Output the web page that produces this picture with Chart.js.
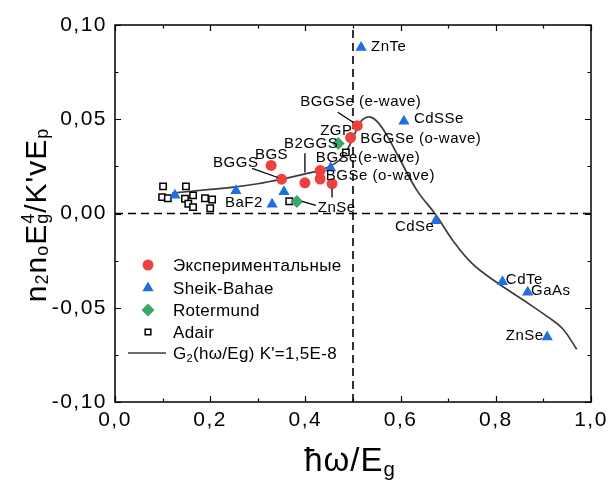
<!DOCTYPE html>
<html>
<head>
<meta charset="utf-8">
<script src="https://cdn.jsdelivr.net/npm/chart.js@4.4.1/dist/chart.umd.min.js"></script>
<style>
  html, body { margin: 0; padding: 0; background: #fff; }
</style>
</head>
<body>
<canvas id="chart" width="608" height="481"></canvas>
<script>
const FONT = '"Liberation Sans", Arial, sans-serif';

// Экспериментальные (own measurements)
const expX = [0.328, 0.350, 0.399, 0.431, 0.431, 0.456, 0.495, 0.509];
const expY = [0.0255, 0.0182, 0.0163, 0.0228, 0.0183, 0.0158, 0.0403, 0.0466];

// Sheik-Bahae
const sbX = [0.126, 0.254, 0.355, 0.330, 0.453, 0.517, 0.607, 0.674, 0.814, 0.867, 0.908];
const sbY = [0.0097, 0.0121, 0.0115, 0.0049, 0.0242, 0.0880, 0.0490, -0.0038, -0.0362, -0.0418, -0.0655];

// Rotermund
const rotX = [0.469, 0.382];
const rotY = [0.0371, 0.0064];

// Adair
const adX = [0.101, 0.149, 0.099, 0.111, 0.147, 0.164, 0.154, 0.164, 0.189, 0.204, 0.200, 0.366, 0.485];
const adY = [0.0144, 0.0144, 0.0087, 0.0081, 0.0078, 0.0096, 0.0052, 0.0034, 0.0081, 0.0074, 0.0028, 0.0065, 0.0324];

// G2(hw/Eg) model curve, K'=1,5E-8
const g2X = [0.12, 0.20, 0.25, 0.30, 0.35, 0.40, 0.43, 0.46, 0.48, 0.50, 0.51, 0.52, 0.535, 0.55, 0.57, 0.60, 0.635, 0.675, 0.71, 0.75, 0.80, 0.86, 0.91, 0.94, 0.97];
const g2Y = [0.0108, 0.0128, 0.0140, 0.0158, 0.0182, 0.0210, 0.0229, 0.0262, 0.0305, 0.0400, 0.0460, 0.0498, 0.0513, 0.0490, 0.0420, 0.0280, 0.0120, -0.0010, -0.0144, -0.0265, -0.0362, -0.0463, -0.0550, -0.0610, -0.0720];

// reference lines: hw/Eg = 0,5 and zero level
const halfX = [0.5, 0.5];
const halfY = [-0.1, 0.1];
const zeroX = [0, 1];
const zeroY = [0, 0];

// point labels (left edge, vertical middle) in data units
const labelText = ['ZnTe', 'CdSSe', 'BGGSe (e-wave)', 'ZGP', 'BGGSe (o-wave)', 'B2GGS', 'BGS', 'BGGS',
  'BGSe(e-wave)', 'BGSe (o-wave)', 'BaF2', 'ZnSe', 'CdSe', 'CdTe', 'GaAs', 'ZnSe'];
const labelX = [0.538, 0.628, 0.389, 0.431, 0.515, 0.355, 0.294, 0.206, 0.422, 0.443, 0.231, 0.426, 0.588, 0.821, 0.874, 0.821];
const labelY = [0.0883, 0.0500, 0.0590, 0.0441, 0.0394, 0.0367, 0.0309, 0.0266, 0.0293, 0.0202, 0.0059, 0.0032, -0.0069, -0.0351, -0.0410, -0.0649];

// leader lines from labels to points: x1, y1, x2, y2
const leaders = [
  [0.468, 0.0537, 0.500, 0.0484],
  [0.288, 0.0239, 0.342, 0.0191],
  [0.399, 0.0319, 0.399, 0.0218],
  [0.456, 0.0133, 0.456, 0.0085],
  [0.393, 0.0064, 0.422, 0.0043]
];

const pts = (xs, ys) => xs.map((x, i) => ({ x, y: ys[i] }));

function fmt(v, digits) {
  if (Math.abs(v) < 1e-9) v = 0;
  return v.toFixed(digits).replace('.', ',');
}
function isMultiple(v, step) {
  return Math.abs(Math.round(v / step) * step - v) < 1e-9;
}

// text with sub/superscripts; parts: {t, s (scale), dy (em), keep (no advance)}
function richWidth(ctx, parts, size) {
  let w = 0, pend = 0;
  parts.forEach(p => {
    ctx.font = (size * (p.s || 1)) + 'px ' + FONT;
    const pw = ctx.measureText(p.t).width;
    if (p.keep) { pend = pw; return; }
    w += Math.max(pw, pend); pend = 0;
  });
  return w;
}
function drawRich(ctx, parts, size, cx, baseY) {
  let x = cx - richWidth(ctx, parts, size) / 2, pend = 0;
  parts.forEach(p => {
    ctx.font = (size * (p.s || 1)) + 'px ' + FONT;
    const pw = ctx.measureText(p.t).width;
    ctx.fillText(p.t, x, baseY + (p.dy || 0) * size);
    if (p.keep) { pend = pw; return; }
    x += Math.max(pw, pend); pend = 0;
  });
}

const yTitle = [
  { t: 'n' }, { t: '2', s: 0.6, dy: 0.07 }, { t: 'n' }, { t: 'o', s: 0.6, dy: 0.07 }, { t: 'E' },
  { t: 'g', s: 0.6, dy: 0.07, keep: true }, { t: '4', s: 0.6, dy: -0.4 }, { t: "/K'vE" }, { t: 'p', s: 0.6, dy: 0.07 }
];
const xTitle = [{ t: 'ħω/E' }, { t: 'g', s: 0.62, dy: 0.15 }];

const chrome = {
  id: 'chrome',
  beforeDraw(chart) {
    chart.ctx.letterSpacing = '1.5px';
  },
  beforeDatasetsDraw(chart) {
    chart.ctx.letterSpacing = '0px';
  },
  afterDatasetsDraw(chart) {
    const { ctx, chartArea: a, scales: { x, y } } = chart;
    ctx.save();
    ctx.strokeStyle = '#000';
    ctx.lineWidth = 1.5;
    ctx.strokeRect(a.left, a.top, a.right - a.left, a.bottom - a.top);

    // inward ticks on all four sides
    ctx.lineWidth = 1.2;
    ctx.beginPath();
    x.ticks.forEach(t => {
      const px = Math.round(x.getPixelForValue(t.value)) + 0.5;
      const len = isMultiple(t.value, 0.2) ? 6 : 3.5;
      ctx.moveTo(px, a.bottom); ctx.lineTo(px, a.bottom - len);
      ctx.moveTo(px, a.top); ctx.lineTo(px, a.top + len);
    });
    y.ticks.forEach(t => {
      const py = Math.round(y.getPixelForValue(t.value)) + 0.5;
      const len = isMultiple(t.value, 0.05) ? 6 : 3.5;
      ctx.moveTo(a.left, py); ctx.lineTo(a.left + len, py);
      ctx.moveTo(a.right, py); ctx.lineTo(a.right - len, py);
    });
    ctx.stroke();

    // leader lines
    ctx.lineWidth = 1.3;
    ctx.strokeStyle = '#000';
    ctx.beginPath();
    leaders.forEach(([x1, y1, x2, y2]) => {
      ctx.moveTo(x.getPixelForValue(x1), y.getPixelForValue(y1));
      ctx.lineTo(x.getPixelForValue(x2), y.getPixelForValue(y2));
    });
    ctx.stroke();

    // point labels
    ctx.fillStyle = '#000';
    ctx.font = '15px ' + FONT;
    ctx.letterSpacing = '0.5px';
    ctx.textAlign = 'left';
    ctx.textBaseline = 'middle';
    labelText.forEach((txt, i) => {
      ctx.fillText(txt, x.getPixelForValue(labelX[i]), y.getPixelForValue(labelY[i]));
    });
    ctx.restore();
  },
  afterDraw(chart) {
    const ctx = chart.ctx;
    ctx.save();
    ctx.letterSpacing = '1px';
    ctx.fillStyle = '#000';
    ctx.textAlign = 'left';
    ctx.textBaseline = 'alphabetic';

    // axis titles
    drawRich(ctx, xTitle, 33, 350, 471);
    ctx.save();
    ctx.translate(46, 215);
    ctx.rotate(-Math.PI / 2);
    drawRich(ctx, yTitle, 30, 0, 0);
    ctx.restore();

    // legend inside the plot
    ctx.letterSpacing = '0.3px';
    const rows = [265, 288, 310, 332, 353];
    chart.data.datasets.slice(0, 5).forEach((ds, i) => {
      const yy = rows[i];
      if (ds.pointRadius > 0) {
        ctx.fillStyle = ds.backgroundColor;
        ctx.strokeStyle = ds.borderColor;
        ctx.lineWidth = ds.borderWidth || 0;
        Chart.helpers.drawPoint(ctx, {
          pointStyle: ds.pointStyle, rotation: 0,
          radius: ds.pointStyle === 'rect' ? 4 : ds.pointRadius, borderWidth: ds.borderWidth || 0
        }, 148, yy);
      } else {
        ctx.strokeStyle = ds.borderColor;
        ctx.lineWidth = ds.borderWidth;
        ctx.beginPath(); ctx.moveTo(128, yy); ctx.lineTo(166, yy); ctx.stroke();
      }
      ctx.fillStyle = '#000';
      if (ds.label.startsWith('G2')) {
        ctx.textBaseline = 'alphabetic';
        let xx = 173;
        ctx.font = '17px ' + FONT;
        ctx.fillText('G', xx, yy + 6); xx += ctx.measureText('G').width;
        ctx.font = '11px ' + FONT;
        ctx.fillText('2', xx, yy + 9); xx += ctx.measureText('2').width;
        ctx.font = '17px ' + FONT;
        ctx.fillText("(hω/Eg) K'=1,5E-8", xx, yy + 6);
      } else {
        ctx.textBaseline = 'middle';
        ctx.font = '17px ' + FONT;
        ctx.fillText(ds.label, 173, yy + 1);
      }
    });
    ctx.restore();
  }
};

new Chart(document.getElementById('chart'), {
  type: 'scatter',
  data: {
    datasets: [
      { label: 'Экспериментальные', data: pts(expX, expY), pointStyle: 'circle', pointRadius: 5.5,
        backgroundColor: '#ef4040', borderColor: '#ef4040', borderWidth: 0, order: 1 },
      { label: 'Sheik-Bahae', data: pts(sbX, sbY), pointStyle: 'triangle', pointRadius: 6.5,
        backgroundColor: '#1f6fe0', borderColor: '#1f6fe0', borderWidth: 0, order: 1 },
      { label: 'Rotermund', data: pts(rotX, rotY), pointStyle: 'rectRot', pointRadius: 6.5,
        backgroundColor: '#3aa86a', borderColor: '#3aa86a', borderWidth: 0, order: 1 },
      { label: 'Adair', data: pts(adX, adY), pointStyle: 'rect', pointRadius: 4.5,
        backgroundColor: '#fff', borderColor: '#000', borderWidth: 1.5, order: 2 },
      { label: "G2(hω/Eg) K'=1,5E-8", data: pts(g2X, g2Y), showLine: true, pointRadius: 0,
        borderColor: '#3c3c3c', borderWidth: 1.7, tension: 0.4, order: 5 },
      { label: 'half', data: pts(halfX, halfY), showLine: true, pointRadius: 0,
        borderColor: '#000', borderWidth: 1.6, borderDash: [8, 5], order: 10 },
      { label: 'zero', data: pts(zeroX, zeroY), showLine: true, pointRadius: 0,
        borderColor: '#000', borderWidth: 1.6, borderDash: [8, 5], order: 10 }
    ]
  },
  options: {
    responsive: false,
    animation: false,
    layout: { padding: { top: 25, right: 17, left: 0, bottom: 0 } },
    plugins: { legend: { display: false }, tooltip: { enabled: false } },
    scales: {
      x: {
        min: 0, max: 1,
        grid: { display: false, drawTicks: false },
        border: { display: false },
        ticks: {
          stepSize: 0.1, autoSkip: false, maxRotation: 0, padding: 6,
          color: '#000', font: { family: FONT, size: 21 },
          callback: v => isMultiple(v, 0.2) ? fmt(v, 1) : ''
        },
        afterFit(s) { s.height = 79; s.paddingLeft = 0; s.paddingRight = 0; }
      },
      y: {
        min: -0.1, max: 0.1,
        grid: { display: false, drawTicks: false },
        border: { display: false },
        ticks: {
          stepSize: 0.025, autoSkip: false, padding: 8,
          color: '#000', font: { family: FONT, size: 21 },
          callback: v => isMultiple(v, 0.05) ? fmt(v, 2) : ''
        },
        afterFit(s) { s.width = 115; s.paddingTop = 0; s.paddingBottom = 0; }
      }
    }
  },
  plugins: [chrome]
});
</script>
</body>
</html>
